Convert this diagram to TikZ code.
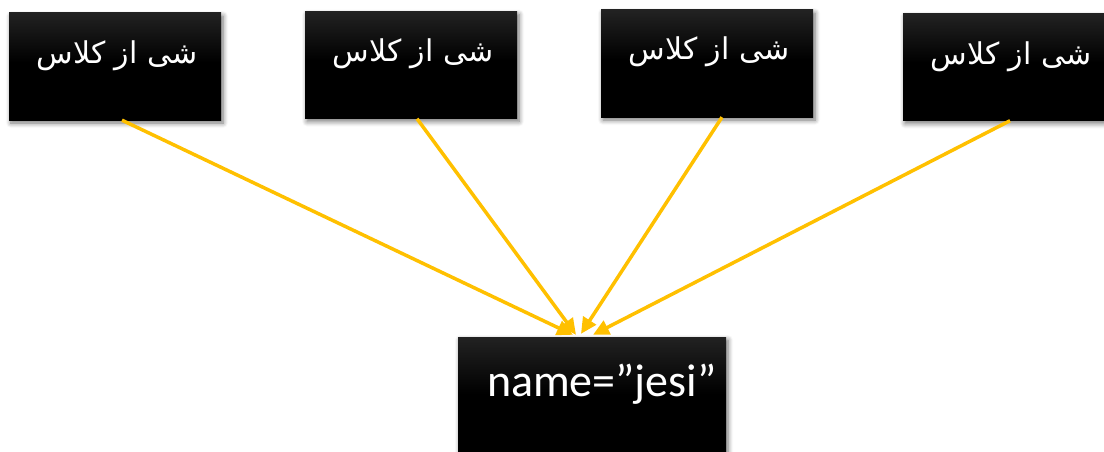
\documentclass[tikz,border=0pt]{standalone}
\usepackage{fontspec}
\setmainfont{Carlito}
\newfontfamily\arabicfont[Script=Arabic]{DejaVu Sans}
\TeXXeTstate=1
\usetikzlibrary{arrows.meta,shadows.blur}
\definecolor{gold}{HTML}{FFC000}
\definecolor{topgray}{HTML}{474747}
\pgfdeclareverticalshading{boxshade}{100bp}{color(0bp)=(black); color(52bp)=(black); color(100bp)=(topgray)}
\tikzset{
  objbox/.style={minimum width=212pt, minimum height=107pt, inner sep=0pt,
    shading=boxshade,
    blur shadow={shadow xshift=2pt, shadow yshift=-3pt, shadow blur steps=6, shadow blur radius=5pt, shadow opacity=55}},
  arabtxt/.style={text=white, font=\arabicfont\fontsize{30}{36}\selectfont},
  link/.style={draw=gold, line width=3.5pt, -{Triangle[length=16pt,width=15pt]}}
}
\begin{document}
\begin{tikzpicture}[x=1pt,y=-1pt]
\useasboundingbox (0,0) rectangle (1104,452);
\clip (0,0) rectangle (1104,452);
\node[objbox] (b1) at (115,66.5) {};
\node[objbox] (b2) at (411,65) {};
\node[objbox] (b3) at (707,63.5) {};
\node[objbox] (b4) at (1009,67) {};
\node[objbox, minimum width=268pt, minimum height=124pt] (t) at (592,399) {};
\node[arabtxt] (l1) at (117,56) {\beginR شی از کلاس\endR};
\node[arabtxt] (l2) at (413,54) {\beginR شی از کلاس\endR};
\node[arabtxt] (l3) at (709,52) {\beginR شی از کلاس\endR};
\node[arabtxt] (l4) at (1011,57) {\beginR شی از کلاس\endR};
\node[text=white, font=\fontsize{46}{54}\selectfont] (tl) at (602,384) {name=”jesi”};
\draw[link] ([xshift=7pt]b1.south) -- ([xshift=-19pt,yshift=2pt]t.north);
\draw[link] ([xshift=6pt]b2.south) -- ([xshift=-16pt,yshift=2pt]t.north);
\draw[link] ([xshift=15pt]b3.south) -- ([xshift=-11pt,yshift=3pt]t.north);
\draw[link] ([xshift=1pt]b4.south) -- ([xshift=1pt,yshift=2pt]t.north);
\end{tikzpicture}
\end{document}
